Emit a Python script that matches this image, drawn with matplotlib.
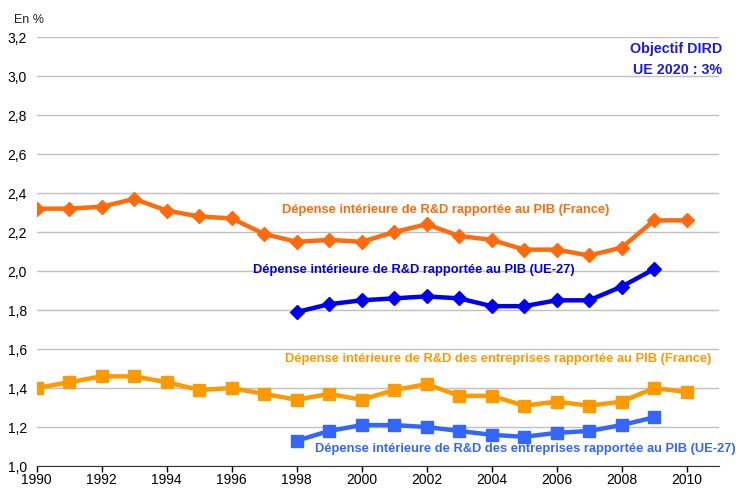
import matplotlib
matplotlib.use('Agg')
import matplotlib.pyplot as plt

plt.rcParams['font.family'] = ['Liberation Sans', 'DejaVu Sans']

years_fr = list(range(1990, 2011))
years_ue = list(range(1998, 2010))

dird_fr = [2.32, 2.32, 2.33, 2.37, 2.31, 2.28, 2.27, 2.19, 2.15, 2.16, 2.15,
           2.20, 2.24, 2.18, 2.16, 2.11, 2.11, 2.08, 2.12, 2.26, 2.26]
dird_ue = [1.79, 1.83, 1.85, 1.86, 1.87, 1.86, 1.82, 1.82, 1.85, 1.85, 1.92, 2.01]
dirde_fr = [1.40, 1.43, 1.46, 1.46, 1.43, 1.39, 1.40, 1.37, 1.34, 1.37, 1.34,
            1.39, 1.42, 1.36, 1.36, 1.31, 1.33, 1.31, 1.33, 1.40, 1.38]
dirde_ue = [1.13, 1.18, 1.21, 1.21, 1.20, 1.18, 1.16, 1.15, 1.17, 1.18, 1.21, 1.25]

yticks = [1.0, 1.2, 1.4, 1.6, 1.8, 2.0, 2.2, 2.4, 2.6, 2.8, 3.0, 3.2]
xticks = list(range(1990, 2011, 2))

c_dird_fr = '#ff6a0d'
c_dird_ue = '#0000ee'
c_dirde_fr = '#ff9900'
c_dirde_ue = '#3366ff'

fig = plt.figure(figsize=(7.36, 4.88), dpi=100)
ax = fig.add_axes([0.050, 0.045, 0.927, 0.879])

ax.plot(years_fr, dird_fr, color=c_dird_fr, lw=3.2, marker='D', ms=7, zorder=3)
ax.plot(years_ue, dird_ue, color=c_dird_ue, lw=3.2, marker='D', ms=7, zorder=3)
ax.plot(years_fr, dirde_fr, color=c_dirde_fr, lw=3.2, marker='s', ms=8, zorder=3)
ax.plot(years_ue, dirde_ue, color=c_dirde_ue, lw=3.2, marker='s', ms=8, zorder=3)

ax.set_xlim(1990, 2011)
ax.set_ylim(1.0, 3.2)
ax.set_xticks(xticks)
ax.set_yticks(yticks)
ax.set_yticklabels([('%.1f' % v).replace('.', ',') for v in yticks])
ax.tick_params(axis='y', length=0, pad=7, labelsize=10)
ax.tick_params(axis='x', length=4, direction='out', width=1, labelsize=10, pad=1)
ax.grid(axis='y', color='#c0c0c0', lw=1)
ax.set_axisbelow(True)
for s in ['top', 'right', 'left']:
    ax.spines[s].set_visible(False)
ax.spines['bottom'].set_color('#333333')

kw = dict(fontsize=9.3, fontweight='bold', ha='center', va='center')
ax.text(2002.6, 2.313, 'Dépense intérieure de R&D rapportée au PIB (France)', color=c_dird_fr, **kw)
ax.text(2001.6, 2.005, 'Dépense intérieure de R&D rapportée au PIB (UE-27)', color=c_dird_ue, **kw)
ax.text(2004.2, 1.549, 'Dépense intérieure de R&D des entreprises rapportée au PIB (France)', color=c_dirde_fr, **kw)
ax.text(2005.05, 1.087, 'Dépense intérieure de R&D des entreprises rapportée au PIB (UE-27)', color=c_dirde_ue, **kw)

fig.text(0.981, 0.900, 'Objectif DIRD', color='#1a1ae0', fontsize=10.3, fontweight='bold', ha='right', va='center')
fig.text(0.981, 0.857, 'UE 2020 : 3%', color='#1a1ae0', fontsize=10.3, fontweight='bold', ha='right', va='center')
fig.text(0.019, 0.959, 'En %', fontsize=9, ha='left', va='center', color='#222222')

fig.savefig('out.png', dpi=100)
